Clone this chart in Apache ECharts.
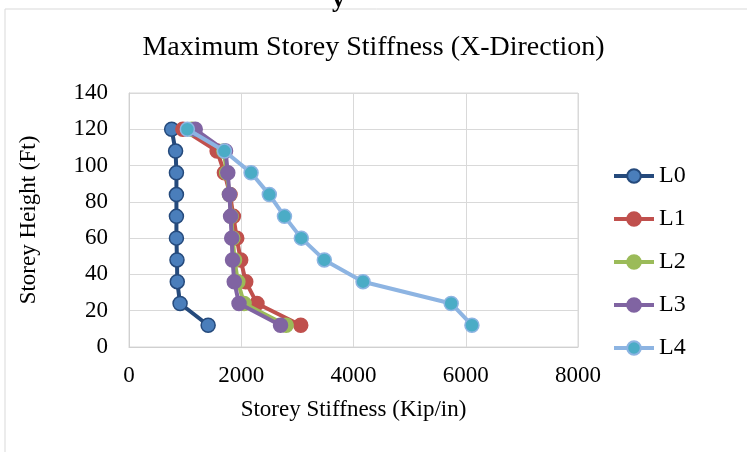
<!DOCTYPE html>
<html>
<head>
<meta charset="utf-8">
<script src="https://cdn.jsdelivr.net/npm/echarts@6/dist/echarts.min.js"></script>
<style>
  html, body { margin: 0; padding: 0; background: #fff; }
  #chart { width: 747px; height: 452px; }
</style>
</head>
<body>
<div id="chart"></div>
<script>
// Storey heights (ft) for each level
const heights = [120, 108, 96, 84, 72, 60, 48, 36, 24, 12];

// Maximum storey stiffness (kip/in), one array per model
const L0 = [760, 830, 845, 845, 845, 845, 855, 860, 910, 1410];
const L1 = [960, 1570, 1700, 1800, 1860, 1920, 1990, 2080, 2280, 3060];
const L2 = [1120, 1690, 1740, 1790, 1820, 1850, 1880, 1940, 2050, 2800];
const L3 = [1180, 1720, 1760, 1790, 1810, 1830, 1845, 1875, 1960, 2700];
const L4 = [1040, 1700, 2175, 2500, 2770, 3070, 3480, 4170, 5740, 6110];

const seriesNames = ['L0', 'L1', 'L2', 'L3', 'L4'];
const seriesValues = [L0, L1, L2, L3, L4];

const xTicks = [0, 2000, 4000, 6000, 8000];
const yTicks = [0, 20, 40, 60, 80, 100, 120, 140];

const styles = [
  { line: '#254a7c', fill: '#4a7ebb', border: '#254a7c' },
  { line: '#c0504d', fill: '#c0504d', border: '#c0504d' },
  { line: '#9bbb59', fill: '#9bbb59', border: '#9bbb59' },
  { line: '#8064a2', fill: '#8064a2', border: '#8064a2' },
  { line: '#8db4e2', fill: '#4bacc6', border: '#8db4e2' }
];

const serif = '"Liberation Serif", "Times New Roman", serif';

const chart = echarts.init(document.getElementById('chart'), null, { renderer: 'canvas' });

chart.setOption({
  animation: false,
  backgroundColor: '#fff',
  graphic: [
    {
      type: 'rect',
      shape: { x: 5, y: 9, width: 760, height: 460 },
      style: { fill: 'none', stroke: '#d9d9d9', lineWidth: 1 },
      silent: true
    },
    {
      type: 'text',
      left: 332,
      top: -13,
      style: { text: 'y', font: 'bold 26px ' + serif, fill: '#000' },
      silent: true
    }
  ],
  title: {
    text: 'Maximum Storey Stiffness (X-Direction)',
    left: 'center',
    top: 29,
    textStyle: { fontFamily: serif, fontSize: 28, fontWeight: 'normal', color: '#000' }
  },
  legend: {
    orient: 'vertical',
    left: 607,
    top: 159,
    itemWidth: 40,
    itemHeight: 17,
    itemGap: 19,
    lineStyle: { width: 4 },
    textStyle: { fontFamily: serif, fontSize: 24, color: '#000' },
    data: seriesNames
  },
  grid: {
    left: 129,
    right: 169,
    top: 93,
    bottom: 105,
    show: true,
    borderColor: '#d9d9d9',
    borderWidth: 1
  },
  xAxis: {
    type: 'value',
    min: xTicks[0],
    max: xTicks[xTicks.length - 1],
    interval: xTicks[1] - xTicks[0],
    name: 'Storey Stiffness (Kip/in)',
    nameLocation: 'middle',
    nameGap: 51,
    nameTextStyle: { fontFamily: serif, fontSize: 23, color: '#000' },
    axisLine: { show: true, lineStyle: { color: '#d0d0d0', width: 1 } },
    axisTick: { show: false },
    axisLabel: {
      fontFamily: serif, fontSize: 23, color: '#000', margin: 17,
      formatter: v => String(v)
    },
    splitLine: { show: true, lineStyle: { color: '#d9d9d9', width: 1 } }
  },
  yAxis: {
    type: 'value',
    min: yTicks[0],
    max: yTicks[yTicks.length - 1],
    interval: yTicks[1] - yTicks[0],
    name: 'Storey Height (Ft)',
    nameLocation: 'middle',
    nameGap: 89,
    nameTextStyle: { fontFamily: serif, fontSize: 23, color: '#000' },
    axisLine: { show: true, lineStyle: { color: '#d0d0d0', width: 1 } },
    axisTick: { show: false },
    axisLabel: { fontFamily: serif, fontSize: 23, color: '#000', margin: 21 },
    splitLine: { show: true, lineStyle: { color: '#d9d9d9', width: 1 } }
  },
  series: seriesNames.map((name, i) => ({
    name: name,
    type: 'line',
    data: seriesValues[i].map((v, k) => [v, heights[k]]),
    symbol: 'circle',
    symbolSize: 14,
    lineStyle: { color: styles[i].line, width: 4 },
    itemStyle: { color: styles[i].fill, borderColor: styles[i].border, borderWidth: 1.5 },
    z: 2 + i
  }))
});
</script>
</body>
</html>
